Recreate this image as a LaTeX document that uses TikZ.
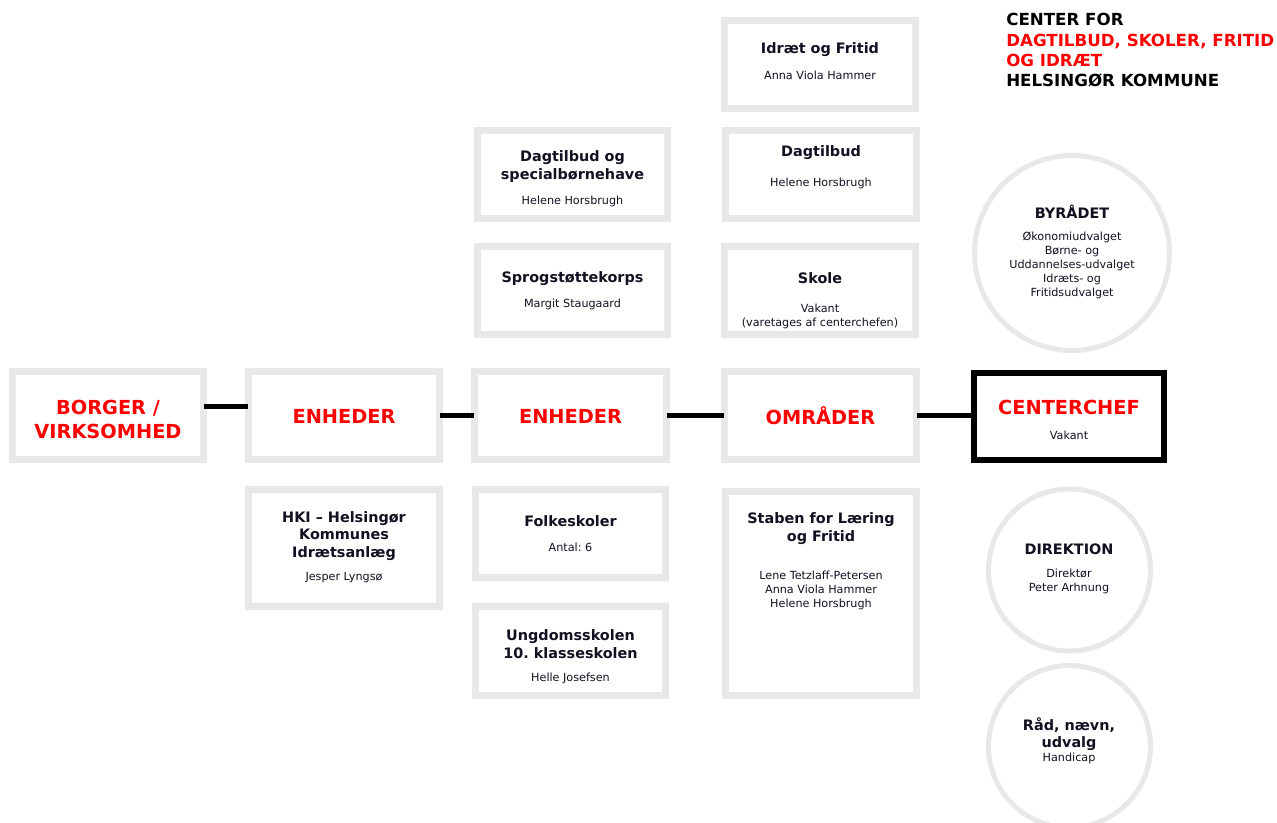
\documentclass[tikz,border=0pt]{standalone}
\usepackage{fontspec}
\setmainfont{DejaVu Sans}
\frenchspacing
\definecolor{boxgray}{RGB}{232,232,232}
\definecolor{ink}{RGB}{17,17,34}
\tikzset{
 gbox/.style={draw=boxgray, line width=4.9pt, fill=white, inner sep=0pt, outer sep=0pt},
 cbox/.style={draw=black, line width=4.6pt, fill=white, inner sep=0pt, outer sep=0pt},
 gcirc/.style={circle, draw=boxgray, line width=3.75pt, fill=white, inner sep=0pt, outer sep=0pt},
 conn/.style={draw=black, line width=3.5pt},
 ttl/.style={font=\bfseries\fontsize{10.8}{13.2}\selectfont, text=ink, align=center, inner sep=0pt},
 sml/.style={font=\fontsize{8.4}{10.5}\selectfont, text=ink, align=center, inner sep=0pt},
 big/.style={font=\bfseries\fontsize{14.5}{18}\selectfont, text=red, align=center, inner sep=0pt},
 hdr/.style={font=\bfseries\fontsize{12.5}{15.2}\selectfont, text=black, align=left, inner sep=0pt, anchor=west},
}
\newcommand\gb[6]{\node[#1, minimum width={(#5-#3-6.5)*0.75pt}, minimum height={(#6-#4-6.5)*0.75pt}] (#2) at ({(#3+#5)/2},{(#4+#6)/2}) {};}
\newcommand\gc[4]{\node[gcirc, minimum size={(2*#4-5)*0.75pt}] (#1) at (#2,#3) {};}
\begin{document}
\begin{tikzpicture}[x=0.75pt,y=-0.75pt]
\useasboundingbox (0,0) rectangle (1277,823);
\clip (0,0) rectangle (1277,823);
% boxes
\gb{gbox}{borger}{9}{368}{207}{463}
\gb{gbox}{enh1}{245}{368}{443}{463}
\gb{gbox}{enh2}{471}{368}{670}{463}
\gb{gbox}{omr}{721}{368}{920}{463}
\gb{cbox}{chef}{971}{370}{1167}{463}
\gb{gbox}{idraet}{721}{17}{919}{112}
\gb{gbox}{dagt}{722}{127}{920}{222}
\gb{gbox}{dagspec}{474}{127}{671}{222}
\gb{gbox}{sprog}{474}{243}{671}{338}
\gb{gbox}{skole}{721}{243}{919}{338}
\gb{gbox}{hki}{245}{486}{443}{610}
\gb{gbox}{folke}{472}{486}{669}{581}
\gb{gbox}{ungdom}{472}{603}{669}{699}
\gb{gbox}{staben}{722}{488}{920}{699}
% circles
\gc{byr}{1072}{253}{100}
\gc{dir}{1069.5}{570}{83.5}
\gc{raad}{1069.5}{746.5}{83.5}
% connectors
\draw[conn] ([yshift=6.75pt]borger.east) -- ([yshift=6.75pt]enh1.west);
\draw[conn] (enh1.east) -- (enh2.west);
\draw[conn] (enh2.east) -- (omr.west);
\draw[conn] (omr.east) -- (omr.east -| chef.west);
% texts
\node[hdr] (hdrtxt) at (1006,50.5) {CENTER FOR\\{\color{red}DAGTILBUD, SKOLER, FRITID}\\{\color{red}OG IDRÆT}\\HELSINGØR KOMMUNE};
\node[ttl] (t-idraet) at (820,50) {Idræt og Fritid};
\node[sml] (n-idraet) at (820,75) {Anna Viola Hammer};
\node[ttl] (t-dagt) at (821,153) {Dagtilbud};
\node[sml] (n-dagt) at (821,183) {Helene Horsbrugh};
\node[ttl] (t-dagspec) at (572.5,166.5) {Dagtilbud og\\specialbørnehave};
\node[sml] (n-dagspec) at (572.5,201) {Helene Horsbrugh};
\node[ttl] (t-sprog) at (572.5,279) {Sprogstøttekorps};
\node[sml] (n-sprog) at (572.5,304) {Margit Staugaard};
\node[ttl] (t-skole) at (820,278) {Skole};
\node[sml] (n-skole) at (820,316.5) {Vakant\\(varetages af centerchefen)};
\node[ttl] (t-byr) at (1072,212) {BYRÅDET};
\node[sml] (n-byr) at (1072,265) {Økonomiudvalget\\Børne- og\\Uddannelses-udvalget\\Idræts- og\\Fritidsudvalget};
\node[big] (t-borger) at (108,419) {BORGER /\\VIRKSOMHED};
\node[big] (t-enh1) at (344,416) {ENHEDER};
\node[big] (t-enh2) at (570.5,416) {ENHEDER};
\node[big] (t-omr) at (820.5,416) {OMRÅDER};
\node[big] (t-chef) at (1069,407) {CENTERCHEF};
\node[sml] (n-chef) at (1069,435) {Vakant};
\node[ttl] (t-hki) at (344,536) {HKI – Helsingør\\Kommunes\\Idrætsanlæg};
\node[sml] (n-hki) at (344,578) {Jesper Lyngsø};
\node[ttl] (t-folke) at (570.5,521) {Folkeskoler};
\node[sml] (n-folke) at (570.5,547) {Antal: 6};
\node[ttl] (t-ungdom) at (570.5,644) {Ungdomsskolen\\10. klasseskolen};
\node[sml] (n-ungdom) at (570.5,678) {Helle Josefsen};
\node[ttl] (t-staben) at (821,528.5) {Staben for Læring\\og Fritid};
\node[sml] (n-staben) at (821,590.5) {Lene Tetzlaff-Petersen\\Anna Viola Hammer\\Helene Horsbrugh};
\node[ttl] (t-dir) at (1069,549) {DIREKTION};
\node[sml] (n-dir) at (1069,581) {Direktør\\Peter Arhnung};
\node[ttl] (t-raad) at (1069,734) {Råd, nævn,\\udvalg};
\node[sml] (n-raad) at (1069,758) {Handicap};
\end{tikzpicture}
\end{document}
